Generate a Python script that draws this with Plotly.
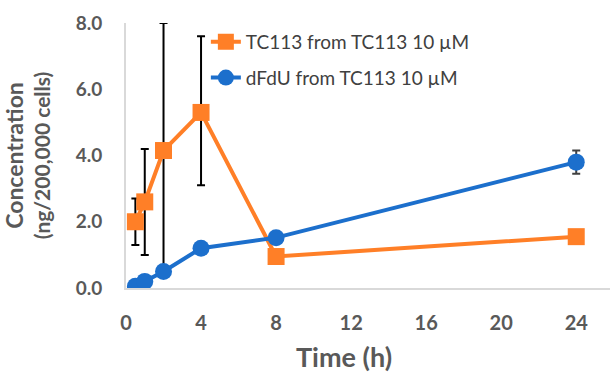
import plotly.graph_objects as go

time_h = [0.5, 1, 2, 4, 8, 24]
tc113 = [2.0, 2.6, 4.15, 5.3, 0.95, 1.55]
tc113_err_plus = [0.7, 1.6, 3.85, 2.3, 0, 0]
tc113_err_minus = [0.7, 1.6, 3.75, 2.2, 0, 0]
dfdu = [0.05, 0.2, 0.5, 1.2, 1.52, 3.8]
dfdu_err = [0, 0, 0, 0, 0, 0.35]

orange = "#FF7F27"
blue = "#1C6FCC"
gray = "#595959"
font = "Lato"

fig = go.Figure()
fig.add_trace(go.Scatter(
    x=time_h, y=tc113, mode="lines+markers", name="TC113 from TC113 10 µM",
    legendgroup="a",
    line=dict(color=orange, width=4),
    marker=dict(symbol="square", size=17, color=orange),
    error_y=dict(type="data", symmetric=False, array=tc113_err_plus,
                 arrayminus=tc113_err_minus, color="black", thickness=2, width=4),
))
fig.add_trace(go.Scatter(
    x=time_h, y=dfdu, mode="lines+markers", name="dFdU from TC113 10 µM",
    legendgroup="b",
    line=dict(color=blue, width=4),
    marker=dict(symbol="circle", size=17, color=blue),
    error_y=dict(type="data", array=dfdu_err, color="#404040", thickness=2, width=4),
))

fig.update_layout(
    width=610, height=375,
    margin=dict(l=126, r=0, t=23, b=87),
    paper_bgcolor="white", plot_bgcolor="white",
    font=dict(family=font, color=gray),
    legend=dict(x=0.165, y=1.0, xanchor="left", yanchor="top",
                font=dict(size=19, color="#404040", family=font),
                traceorder="grouped", tracegroupgap=8,
                bgcolor="rgba(255,255,255,0)"),
    xaxis=dict(range=[0, 25.8], tickvals=[0, 4, 8, 12, 16, 20, 24],
               showgrid=False, zeroline=False, showline=True, linecolor="#d9d9d9",
               linewidth=2, ticks="outside", ticklen=16, tickcolor="rgba(0,0,0,0)",
               tickfont=dict(size=20, family=font, color=gray, weight="bold")),
    yaxis=dict(range=[0, 8], tickvals=[0, 2, 4, 6, 8], tickformat=".1f",
               showgrid=False, zeroline=False, showline=True, linecolor="#d9d9d9",
               linewidth=2, ticks="outside", ticklen=18, tickcolor="rgba(0,0,0,0)",
               tickfont=dict(size=19, family=font, color=gray, weight="bold"),
               title=dict(text="<span style='font-size:23px'>Concentration</span><br>(ng/200,000 cells)",
                          font=dict(size=21, family=font, color=gray, weight="bold"),
                          standoff=26)),
    annotations=[dict(text="Time (h)", xref="paper", yref="paper",
                      x=0.45, y=0, yshift=-68, xanchor="center", yanchor="middle",
                      showarrow=False,
                      font=dict(size=27, family=font, color=gray, weight="bold"))],
)

fig.write_html("out.html")
